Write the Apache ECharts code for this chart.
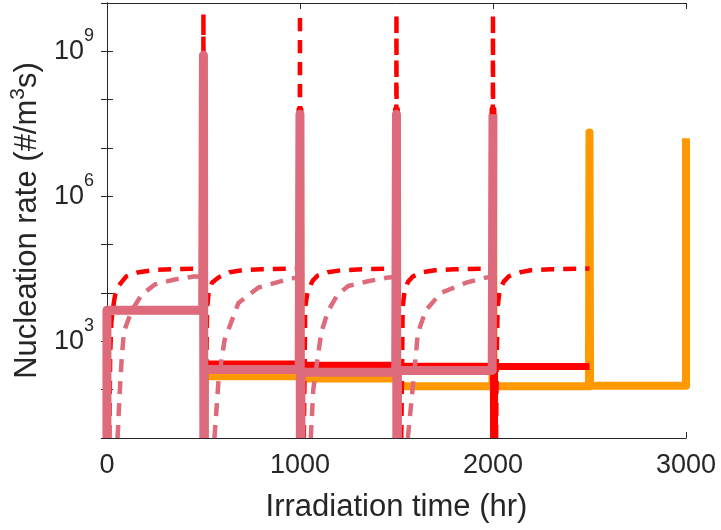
<!DOCTYPE html>
<html>
<head>
<meta charset="utf-8">
<script src="https://cdn.jsdelivr.net/npm/echarts@6/dist/echarts.min.js"></script>
<style>
    html, body { margin: 0; padding: 0; background: #fff; }
    #chart { width: 721px; height: 530px; }
</style>
</head>
<body>
<div id="chart"></div>
<script>
    // 时间 (hr) / 形核率 (#/m^3 s)，null 表示断开
    const orangeTime = [0, 0, 497, 500, 503, 997, 1000, 1003, 1497, 1500, 1503, 1997, 2000, 2003, 2497, 2500, 2503, 3000, 3000];
    const orangeRate = [10, 4400, 4400, 2.5e7, 190, 190, 2.5e7, 170, 170, 2.5e7, 117, 117, 2.5e7, 117, 117, 2.1e7, 120, 120, 1.6e7];

    const redTime = [0, 0, 496, 500, 502, 502, 505, 505, 996, 1000, 1002, 1002, 1005, 1005, 1496, 1500, 1502, 1502,
        1505, 1505, 1996, 2000, 2003, 2003, 2008, 2008, 2500];
    const redRate = [10, 4400, 4400, 6e7, 10, null, 10, 340, 340, 6.2e7, 10, null, 10, 320, 320, 6.2e7, 10, null,
        10, 305, 305, 6.2e7, 10, null, 10, 300, 300];

    const redDashTime = [12, 17, 23, 32, 42, 60, 100, 165, 250, 350, 498, 500, 502, 502,
        510, 516, 519, 528, 545, 578, 636, 700, 800, 998, 1000, 1002, 1002,
        1020, 1025, 1027, 1040, 1066, 1092, 1144, 1212, 1320, 1498, 1500, 1502, 1502,
        1525, 1530, 1532, 1542, 1560, 1585, 1640, 1700, 1800, 1998, 2000, 2002, 2002,
        2016, 2020, 2024, 2034, 2055, 2081, 2145, 2195, 2300, 2500];
    const redDashRate = [10, 600, 2500, 5000, 9000, 1.4e4, 2.2e4, 2.7e4, 3.0e4, 3.1e4, 3.2e4, 6e9, 10, null,
        10, 600, 5000, 1.1e4, 1.65e4, 2.1e4, 2.7e4, 2.95e4, 3.1e4, 3.2e4, 6e9, 10, null,
        10, 600, 5000, 1.1e4, 1.8e4, 2.3e4, 2.7e4, 2.95e4, 3.1e4, 3.2e4, 6e9, 10, null,
        10, 600, 5000, 1.1e4, 1.7e4, 2.2e4, 2.7e4, 2.95e4, 3.1e4, 3.2e4, 6e9, 10, null,
        10, 600, 5000, 1.1e4, 1.7e4, 2.2e4, 2.7e4, 2.95e4, 3.1e4, 3.2e4];

    const pinkDashTime = [55, 66, 76, 88, 129, 181, 248, 351, 449, 500, 502, 502,
        557, 578, 609, 681, 785, 955, 1000, 1002, 1002,
        1056, 1069, 1093, 1110, 1145, 1193, 1250, 1353, 1456, 1500, 1502, 1502,
        1559, 1590, 1611, 1652, 1730, 1864, 1967, 2000];
    const pinkDashRate = [10, 84, 410, 1600, 4400, 9300, 1.5e4, 1.9e4, 2.2e4, 2.2e4, 10, null,
        10, 155, 1050, 6200, 1.3e4, 2.0e4, 2.1e4, 10, null,
        10, 100, 490, 1500, 4200, 9000, 1.4e4, 1.75e4, 2.1e4, 2.15e4, 10, null,
        10, 190, 1500, 4400, 1.0e4, 1.65e4, 2.1e4, 2.15e4];

    const pinkTime = [0, 0, 496, 500, 502, 502, 505, 505, 996, 1000, 1002, 1002, 1005, 1005, 1496, 1500, 1502, 1502,
        1505, 1505, 1996, 2000];
    const pinkRate = [10, 4400, 4400, 8.3e8, 10, null, 10, 260, 260, 5e7, 10, null, 10, 230, 230, 5e7, 10, null,
        10, 250, 250, 5e7];

    const xTicks = [0, 1000, 2000, 3000];

    const axisColor = '#262626';
    const fontFamily = 'Liberation Sans, Arial, sans-serif';

    function toData(times, rates) {
        return times.map((t, i) => (rates[i] == null ? [t, '-'] : [t, rates[i]]));
    }

    function lineSeries(times, rates, color, width, dashed) {
        return {
            type: 'line',
            data: toData(times, rates),
            showSymbol: false,
            symbol: 'none',
            clip: false,
            silent: true,
            connectNulls: false,
            lineStyle: {
                color,
                width,
                type: dashed ? [13, 9] : 'solid',
                cap: 'butt',
                join: dashed ? 'bevel' : 'round'
            },
            emphasis: { disabled: true }
        };
    }

    const supRich = {
        b: { fontSize: 27, fontFamily, color: axisColor },
        s: { fontSize: 18, fontFamily, color: axisColor, padding: [0, 0, 30, 0] }
    };

    const chart = echarts.init(document.getElementById('chart'), null, { renderer: 'canvas' });

    const option = {
        animation: false,
        backgroundColor: '#fff',
        grid: { left: 105, right: 35, top: 3, bottom: 92 },
        xAxis: [
            {
                type: 'value',
                min: xTicks[0],
                max: xTicks[xTicks.length - 1],
                interval: 1000,
                position: 'bottom',
                axisLine: { lineStyle: { color: axisColor, width: 1 } },
                axisTick: { inside: true, length: 6, lineStyle: { color: axisColor } },
                axisLabel: { fontSize: 27, fontFamily, color: axisColor, margin: 14, formatter: (v) => String(v) },
                splitLine: { show: false },
                name: 'Irradiation time (hr)',
                nameLocation: 'middle',
                nameGap: 54,
                nameTextStyle: { fontSize: 31, fontFamily, color: axisColor }
            },
            {
                type: 'value',
                min: xTicks[0],
                max: xTicks[xTicks.length - 1],
                interval: 1000,
                position: 'top',
                axisLine: { lineStyle: { color: axisColor, width: 1 } },
                axisTick: { inside: true, length: 6, lineStyle: { color: axisColor } },
                axisLabel: { show: false },
                splitLine: { show: false }
            }
        ],
        yAxis: [
            {
                type: 'log',
                logBase: 10,
                min: 10,
                max: 1e10,
                splitNumber: 9,
                position: 'left',
                axisLine: { show: true, lineStyle: { color: axisColor, width: 1 } },
                axisTick: { show: true, inside: true, length: 6, lineStyle: { color: axisColor } },
                axisLabel: {
                    margin: 13,
                    formatter: (v) => {
                        const e = Math.round(Math.log10(v));
                        return e % 3 === 0 ? `{b|10}{s|${e}}` : '';
                    },
                    rich: supRich
                },
                splitLine: { show: false },
                name: 'Nucleation rate (#/m{s|3}s)',
                nameLocation: 'middle',
                nameGap: 57,
                nameTextStyle: {
                    fontSize: 31,
                    fontFamily,
                    color: axisColor,
                    rich: {
                        s: { fontSize: 21, fontFamily, color: axisColor, padding: [0, 0, 18, 0] }
                    }
                }
            },
            {
                type: 'log',
                logBase: 10,
                min: 10,
                max: 1e10,
                splitNumber: 9,
                position: 'right',
                axisLine: { show: true, lineStyle: { color: axisColor, width: 1 } },
                axisTick: { show: true, inside: true, length: 6, lineStyle: { color: axisColor } },
                axisLabel: { show: false },
                splitLine: { show: false }
            }
        ],
        series: [
            lineSeries(orangeTime, orangeRate, '#FF9900', 8, false),
            lineSeries(redTime, redRate, '#FF0000', 7, false),
            lineSeries(redDashTime, redDashRate, '#FF0000', 4.5, true),
            lineSeries(pinkDashTime, pinkDashRate, '#DE6B7B', 4.5, true),
            lineSeries(pinkTime, pinkRate, '#DE6B7B', 9, false)
        ]
    };

    chart.setOption(option);
</script>
</body>
</html>
